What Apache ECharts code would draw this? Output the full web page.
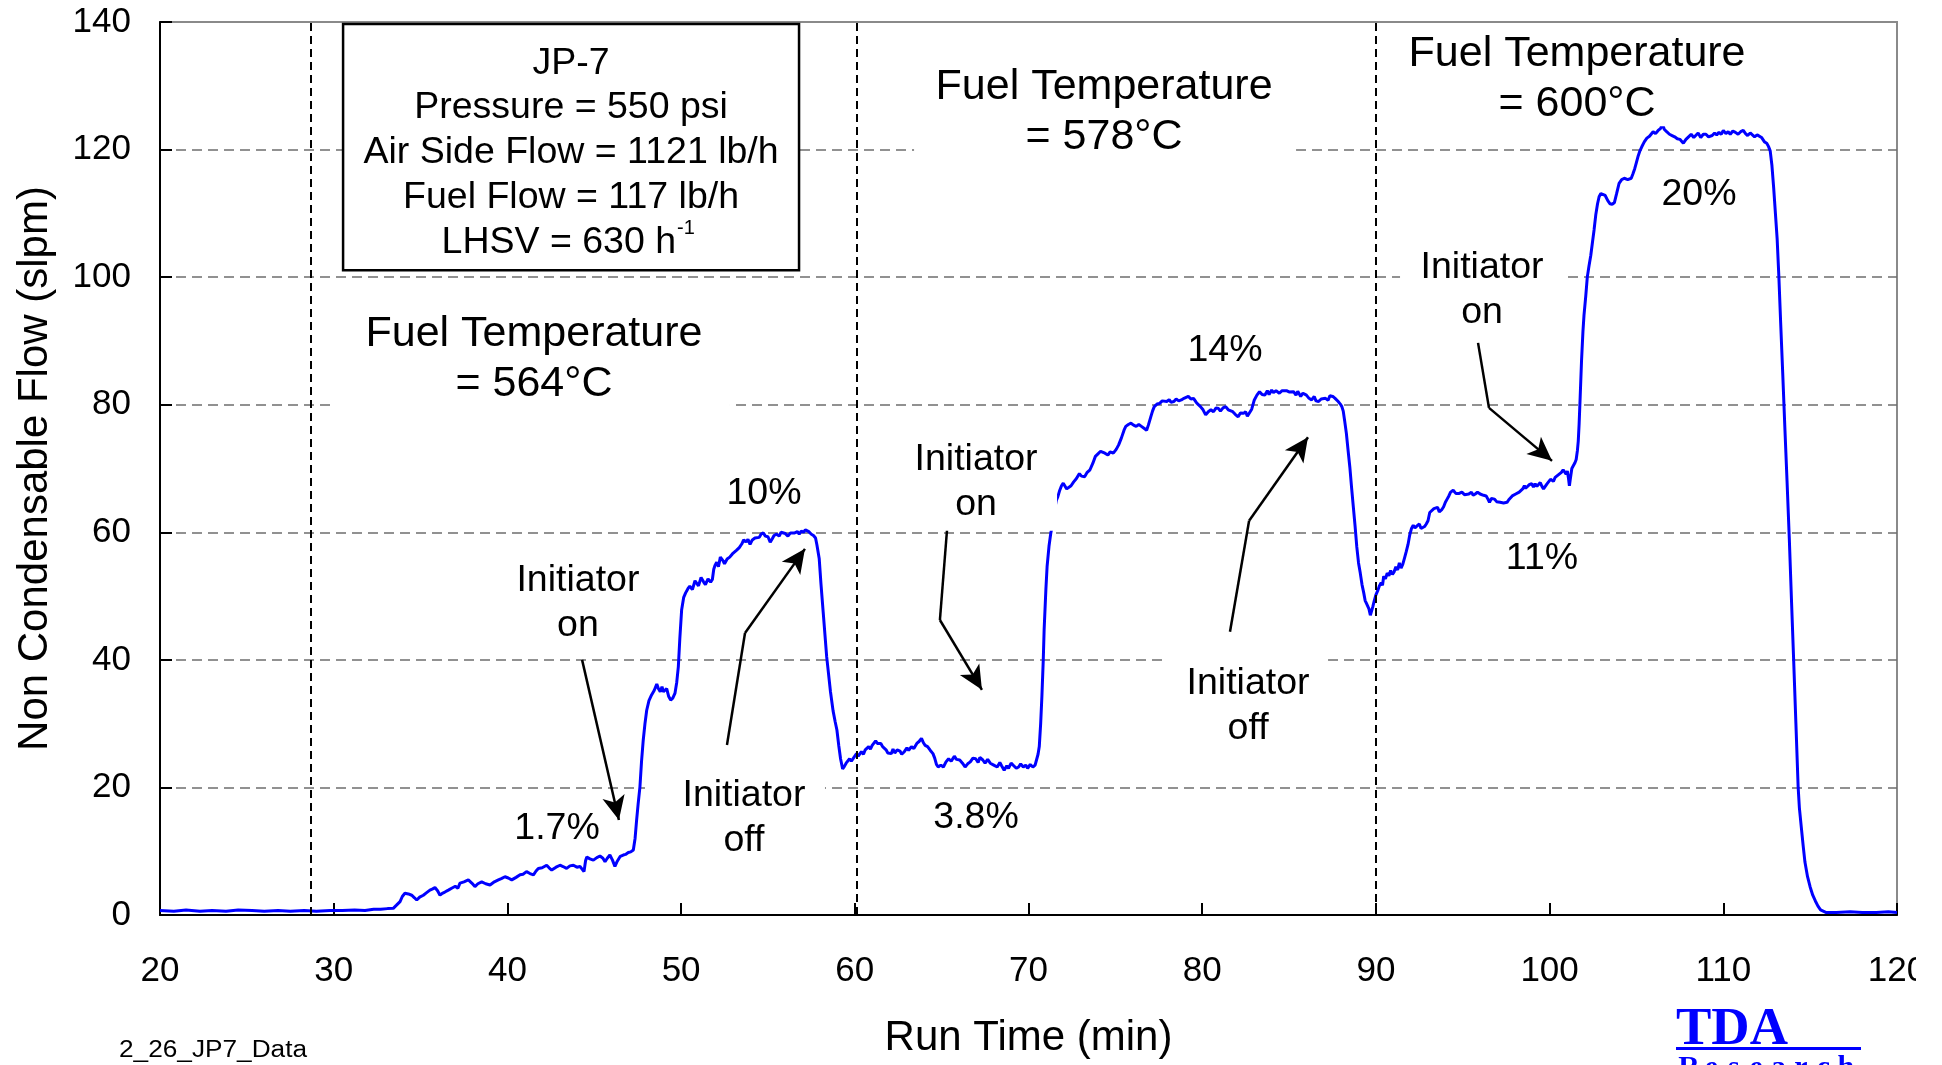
<!DOCTYPE html>
<html>
<head>
<meta charset="utf-8">
<title>Non Condensable Flow vs Run Time</title>
<script src="https://cdn.jsdelivr.net/npm/echarts/dist/echarts.min.js"></script>
<style>
  html, body { margin: 0; padding: 0; background: #ffffff; }
  #chart { width: 1942px; height: 1065px; }
</style>
</head>
<body>
<div id="chart"></div>
<script>
// ---- data -------------------------------------------------------------
const runTimeTicks = [20, 30, 40, 50, 60, 70, 80, 90, 100, 110, 120];
const flowTicks = [0, 20, 40, 60, 80, 100, 120, 140];

// temperature step boundaries (min)
const stepBoundaries = [28.7, 60.1, 90.0];

// [run time (min), non condensable flow (slpm)]
const baselineTrace = [
  [20.0,0.7],[20.8,0.6],[21.5,0.8],[22.3,0.6],[23.0,0.7],[23.8,0.6],[24.5,0.8],[25.3,0.7],
  [26.0,0.6],[26.8,0.7],[27.5,0.6],[28.3,0.7],[29.0,0.6],[29.8,0.7],[30.5,0.7],[31.2,0.8],
  [31.8,0.7],[32.3,0.9],[32.7,0.9],[33.1,1.0],[33.43,1.05]
];
const trace564 = [
  [33.6,1.5],[33.82,2.1],[33.95,2.9],[34.1,3.4],[34.3,3.3],[34.49,3.1],[34.65,2.7],[34.78,2.35],
  [34.95,2.8],[35.16,3.1],[35.35,3.5],[35.54,3.9],[35.7,4.1],[35.83,4.3],[35.98,3.8],[36.12,3.1],
  [36.25,3.4],[36.4,3.6],[36.6,3.9],[36.79,4.2],[37.0,4.5],[37.15,4.2],[37.27,5.0],[37.5,5.2],
  [37.75,5.5],[37.95,5.0],[38.13,4.45],[38.3,4.9],[38.52,5.2],[38.75,4.9],[39.0,4.7],[39.25,5.2],
  [39.48,5.5],[39.65,5.7],[39.86,6.0],[40.05,5.8],[40.25,5.5],[40.5,5.9],[40.73,6.3],[40.9,6.4],
  [41.1,6.8],[41.3,6.5],[41.5,6.3],[41.65,6.9],[41.78,7.3],[42.0,7.4],[42.26,7.8],[42.4,7.4],
  [42.55,7.05],[42.8,7.5],[43.03,7.8],[43.2,7.6],[43.41,7.3],[43.6,7.7],[43.8,7.8],[44.0,7.5],
  [44.18,7.6],[44.3,7.2],[44.41,6.8],[44.5,8.5],[44.57,9.1],[44.75,8.8],[44.95,8.6],[45.15,9.0],
  [45.33,9.25],[45.5,8.9],[45.62,8.35],[45.75,8.9],[45.9,9.4],[46.05,8.6],[46.19,7.6],[46.3,8.3],
  [46.38,8.6],[46.5,9.2],[46.67,9.4],[46.8,9.5],[46.96,9.8],[47.1,9.9],[47.25,10.2],[47.35,12.0],
  [47.44,14.9],[47.53,17.5],[47.63,20.1],[47.72,24.0],[47.82,27.4],[47.92,30.0],[48.02,32.1],
  [48.15,33.6],[48.3,34.5],[48.45,35.2],[48.6,36.2],[48.69,35.5],[48.8,35.0],[48.9,35.8],
  [48.98,35.0],[49.08,35.2],[49.17,35.5],[49.28,34.3],[49.4,33.7],[49.52,34.0],[49.65,34.8],
  [49.75,36.5],[49.84,38.9],[49.93,43.5],[50.03,47.8],[50.15,49.8],[50.26,50.5],[50.4,51.2],
  [50.5,51.55],[50.65,51.0],[50.8,52.4],[50.9,52.1],[51.0,51.6],[51.15,52.9],[51.3,52.2],
  [51.4,51.8],[51.55,52.7],[51.7,52.2],[51.8,52.6],[51.88,54.2],[51.95,54.8],[52.05,55.3],
  [52.15,54.6],[52.26,56.1],[52.4,55.6],[52.5,55.06],[52.65,55.8],[52.8,56.1],[52.95,56.6],
  [53.05,56.9],[53.2,57.2],[53.35,57.6],[53.5,58.2],[53.6,58.8],[53.75,58.5],[53.85,58.9],
  [53.97,58.1],[54.1,58.8],[54.25,59.1],[54.36,59.4],[54.5,59.2],[54.6,59.7],[54.74,59.9],
  [54.85,59.4],[55.0,59.3],[55.13,58.45],[55.25,59.0],[55.35,59.5],[55.5,59.7],[55.65,59.4],
  [55.75,60.0],[55.85,60.2],[56.0,59.8],[56.15,59.4],[56.3,59.9],[56.4,59.6],[56.54,59.9],
  [56.7,60.1],[56.8,59.7],[56.92,60.2],[57.05,60.0],[57.15,60.4],[57.23,60.3],[57.35,60.1],
  [57.5,59.7],[57.62,59.5],[57.74,59.1],[57.82,58.0],[57.95,55.9],[58.05,52.0],[58.18,47.5],
  [58.28,44.0],[58.38,40.5],[58.46,38.5],[58.6,35.0],[58.75,32.0],[58.87,30.3],[58.97,29.0],
  [59.08,26.5],[59.18,24.5],[59.3,22.9],[59.4,23.3],[59.5,23.8],[59.6,23.6],[59.7,24.5],
  [59.8,24.1],[59.97,24.8]
];
const trace578 = [
  [60.1,25.3],[60.2,24.9],[60.38,25.6],[60.5,25.2],[60.6,25.9],[60.8,26.4],[60.9,26.0],[61.0,26.6],
  [61.2,27.3],[61.3,26.9],[61.5,26.9],[61.6,26.4],[61.8,25.9],[61.9,25.4],[62.1,25.3],[62.2,26.0],
  [62.3,25.4],[62.44,25.9],[62.6,25.7],[62.7,25.2],[62.85,25.6],[63.0,26.2],[63.1,25.8],[63.26,26.4],
  [63.4,26.1],[63.57,26.9],[63.7,27.2],[63.84,27.7],[63.95,27.0],[64.05,26.6],[64.19,26.4],
  [64.35,25.8],[64.5,25.3],[64.6,24.6],[64.7,23.6],[64.8,23.2],[64.95,23.5],[65.1,23.2],[65.25,24.0],
  [65.4,24.5],[65.55,24.1],[65.73,24.9],[65.85,24.4],[66.04,24.3],[66.2,23.8],[66.35,23.2],
  [66.5,23.7],[66.65,24.0],[66.8,24.6],[66.96,24.5],[67.1,23.9],[67.2,24.7],[67.37,24.3],[67.5,23.8],
  [67.65,24.4],[67.8,23.8],[68.0,23.5],[68.2,23.2],[68.35,23.9],[68.45,23.4],[68.6,22.7],[68.75,23.4],
  [68.85,23.0],[69.0,23.8],[69.15,23.4],[69.3,23.0],[69.43,23.2],[69.55,23.7],[69.7,23.2],
  [69.84,23.5],[69.95,23.0],[70.1,23.6],[70.25,23.2],[70.38,23.5],[70.46,24.3],[70.55,25.2],
  [70.62,26.4],[70.7,30.0],[70.77,34.2],[70.85,40.0],[70.9,44.7],[71.0,51.0],[71.07,54.6],
  [71.18,57.8],[71.28,59.8],[71.4,61.5],[71.5,63.5],[71.6,65.0],[71.69,65.6],[71.8,66.6],
  [71.9,67.3],[72.0,67.7],[72.1,67.4],[72.2,66.8],[72.31,66.6],[72.45,67.3],[72.6,67.9],
  [72.75,68.4],[72.93,69.2],[73.05,68.8],[73.23,68.7],[73.38,69.4],[73.54,69.8],[73.7,70.8],
  [73.85,71.9],[74.0,72.3],[74.15,72.7],[74.26,72.9],[74.4,72.4],[74.57,72.1],[74.7,72.6],
  [74.88,72.4],[75.05,73.0],[75.19,73.7],[75.35,74.8],[75.5,76.0],[75.6,76.6],[75.75,76.9],
  [75.9,77.1],[76.05,76.8],[76.2,76.6],[76.35,76.9],[76.5,76.6],[76.65,76.3],[76.8,76.0],
  [76.9,76.8],[77.04,78.1],[77.14,79.0],[77.24,79.7],[77.4,80.1],[77.55,80.2],[77.7,80.6],
  [77.8,80.3],[77.96,80.5],[78.1,80.8],[78.2,80.4],[78.37,80.5],[78.5,80.9],[78.65,80.6],
  [78.8,80.75],[78.95,81.0],[79.05,81.1],[79.2,81.3],[79.35,80.9],[79.5,81.0],[79.65,80.4],
  [79.78,80.0],[79.9,79.7],[80.05,79.2],[80.2,78.4],[80.35,78.9],[80.5,79.2],[80.65,78.9],
  [80.8,79.5],[80.94,79.4],[81.05,79.0],[81.2,79.5],[81.35,79.7],[81.5,79.2],[81.6,79.4],
  [81.76,78.9],[81.9,78.5],[82.07,78.1],[82.2,78.7],[82.38,78.65],[82.5,78.9],[82.6,78.2],
  [82.7,78.4],[82.85,79.3],[83.0,80.75],[83.15,81.5],[83.3,82.05],[83.45,81.6],[83.6,81.5],
  [83.75,82.2],[83.85,81.6],[84.0,82.3],[84.1,81.9],[84.25,82.2],[84.44,81.8],[84.6,82.2],
  [84.7,81.9],[84.85,82.2],[85.0,82.0],[85.1,82.3],[85.26,82.05],[85.4,81.5],[85.5,82.1],
  [85.67,81.3],[85.8,81.8],[86.0,81.5],[86.15,81.0],[86.3,80.75],[86.45,81.3],[86.55,80.6],
  [86.7,80.5],[86.85,80.9],[86.95,80.6],[87.1,81.0],[87.25,80.7],[87.35,81.4],[87.52,81.3],
  [87.65,81.0],[87.75,80.8],[87.83,80.5],[87.95,80.1],[88.04,79.7],[88.12,79.0],[88.2,77.5],
  [88.3,75.5],[88.4,72.8],[88.5,70.2],[88.6,67.0],[88.7,64.0],[88.8,61.0],[88.9,57.7],[89.0,55.2],
  [89.1,53.6],[89.2,51.8],[89.3,50.5],[89.38,49.3],[89.45,48.9],[89.52,49.2],[89.6,48.0],
  [89.68,47.0],[89.75,47.3],[89.82,48.3],[89.9,49.2]
];
const trace600 = [
  [90.0,50.2],[90.1,50.8],[90.2,51.6],[90.3,52.1],[90.38,51.7],[90.45,53.1],[90.55,52.7],[90.65,53.6],
  [90.75,53.2],[90.85,54.0],[90.95,53.4],[91.05,53.8],[91.15,54.6],[91.25,54.1],[91.35,55.2],
  [91.45,54.4],[91.55,55.0],[91.65,56.0],[91.75,57.0],[91.85,58.1],[91.95,59.6],[92.05,60.6],
  [92.15,61.1],[92.25,60.7],[92.37,61.0],[92.5,61.3],[92.6,60.6],[92.7,60.3],[92.8,60.9],
  [92.9,61.3],[93.0,61.8],[93.1,63.1],[93.2,63.4],[93.34,63.7],[93.45,63.4],[93.55,63.9],
  [93.65,63.2],[93.78,63.5],[93.9,64.0],[94.0,64.7],[94.1,65.2],[94.2,65.7],[94.3,66.3],
  [94.45,66.6],[94.6,66.1],[94.7,66.4],[94.8,66.1],[94.95,66.3],[95.1,65.9],[95.2,66.2],
  [95.35,66.0],[95.5,66.3],[95.6,65.8],[95.72,66.0],[95.85,66.3],[96.0,66.0],[96.1,66.2],
  [96.2,65.8],[96.35,65.7],[96.45,65.2],[96.54,64.7],[96.65,65.3],[96.75,65.0],[96.83,65.2],
  [96.95,64.8],[97.05,65.1],[97.15,64.7],[97.22,64.9],[97.35,64.6],[97.45,64.3],[97.55,64.7],
  [97.65,65.1],[97.75,65.4],[97.85,65.7],[97.95,65.4],[98.05,66.0],[98.15,65.8],[98.25,66.3],
  [98.35,66.0],[98.45,66.8],[98.55,67.3],[98.62,66.9],[98.72,67.2],[98.85,67.5],[98.97,67.6],
  [99.07,67.1],[99.17,67.6],[99.27,67.2],[99.36,67.4],[99.46,67.8],[99.56,67.2],[99.65,66.8],
  [99.75,67.0],[99.85,67.6],[99.95,67.9],[100.05,68.3],[100.14,68.4],[100.22,68.0],[100.32,68.6],
  [100.42,68.9],[100.5,69.0],[100.6,68.7],[100.68,69.4],[100.78,69.8],[100.88,69.6],[100.95,69.1],
  [101.02,69.6],[101.08,68.6],[101.14,67.3],[101.2,68.5],[101.28,70.0],[101.38,70.5],[101.46,70.9],
  [101.53,71.4],[101.6,72.8],[101.65,74.3],[101.7,77.0],[101.75,80.5],[101.84,87.0],[101.92,91.5],
  [101.98,94.0],[102.08,97.0],[102.17,100.0],[102.27,101.8],[102.37,103.4],[102.47,105.5],
  [102.56,107.4],[102.66,109.8],[102.76,111.5],[102.85,112.6],[102.95,113.1],[103.05,113.3],
  [103.2,112.8],[103.35,112.0],[103.48,111.5],[103.6,111.4],[103.73,111.7],[103.85,113.0],
  [104.0,114.7],[104.15,115.3],[104.3,115.5],[104.5,115.3],[104.7,115.5],[104.8,116.2],[104.9,117.0],
  [105.0,118.0],[105.1,119.0],[105.2,119.8],[105.3,120.4],[105.45,121.2],[105.6,121.8],
  [105.75,122.1],[105.96,122.8],[106.1,122.5],[106.25,123.0],[106.38,123.3],[106.5,123.9],
  [106.6,123.2],[106.74,122.8],[106.9,122.4],[107.05,122.2],[107.2,122.0],[107.35,121.7],
  [107.5,121.6],[107.7,121.0],[107.85,121.6],[108.0,122.0],[108.15,122.4],[108.3,121.9],
  [108.4,122.2],[108.55,122.6],[108.7,121.9],[108.85,122.4],[109.0,122.4],[109.15,122.0],
  [109.36,122.2],[109.5,122.6],[109.62,122.3],[109.75,122.7],[109.88,122.4],[110.0,123.0],
  [110.15,122.5],[110.28,122.8],[110.4,122.4],[110.55,122.9],[110.7,122.7],[110.85,122.4],
  [111.0,122.8],[111.15,123.0],[111.28,122.5],[111.4,122.2],[111.55,122.6],[111.65,122.4],
  [111.8,122.0],[111.95,122.3],[112.06,122.2],[112.2,121.9],[112.37,121.2],[112.5,121.0],
  [112.6,120.5],[112.7,119.8],[112.8,117.5],[112.9,114.0],[113.0,110.0],[113.1,106.0],
  [113.2,100.0],[113.3,93.0],[113.42,85.0],[113.55,76.0],[113.67,68.0],[113.8,59.0],[113.93,49.0],
  [114.05,40.0],[114.18,30.0],[114.31,20.0],[114.38,16.8],[114.5,13.5],[114.6,10.8],[114.7,8.3],
  [114.85,6.0],[115.0,4.4],[115.15,3.1],[115.3,2.2],[115.45,1.4],[115.6,0.8],[115.9,0.4],
  [116.5,0.4],[117.3,0.5],[118.0,0.4],[118.8,0.4],[119.5,0.5],[120.0,0.4]
];

// conversion levels and initiator events
const conversionLabels = [
  { text: '1.7%', at: [42.86, 13.95] },
  { text: '10%',  at: [54.77, 66.6] },
  { text: '3.8%', at: [66.98, 15.7] },
  { text: '14%',  at: [81.31, 88.9] },
  { text: '11%',  at: [99.56, 56.4] },
  { text: '20%',  at: [108.6, 113.4] }
];
const stepLabels = [
  { text: 'Fuel Temperature\n= 564°C', at: [41.53, 87.6] },
  { text: 'Fuel Temperature\n= 578°C', at: [74.35, 126.4] },
  { text: 'Fuel Temperature\n= 600°C', at: [101.58, 131.5] }
];
const eventLabels = [
  { text: 'Initiator\non',  at: [44.06, 49.4] },
  { text: 'Initiator\noff', at: [53.62, 15.7] },
  { text: 'Initiator\non',  at: [66.98, 68.4] },
  { text: 'Initiator\noff', at: [82.64, 33.2] },
  { text: 'Initiator\non',  at: [96.11, 98.5] }
];
// leader lines from each event label to the trace
const eventPointers = [
  [[44.30, 40.0], [46.42, 14.9]],
  [[52.64, 26.65], [53.68, 44.2], [57.13, 57.4]],
  [[65.31, 60.4], [64.90, 46.25], [67.32, 35.3]],
  [[81.60, 44.4], [82.70, 61.8], [86.09, 74.9]],
  [[95.88, 89.7], [96.51, 79.5], [100.14, 71.2]]
];
const conditionLines = [
  'JP-7',
  'Pressure = 550 psi',
  'Air Side Flow = 1121 lb/h',
  'Fuel Flow = 117 lb/h',
  'LHSV = 630 h'
];
const conditionBoxCorners = [[30.54, 139.7], [56.79, 101.1]];

// ---- styling ----------------------------------------------------------
const FONT = '"Liberation Sans", Arial, Helvetica, sans-serif';
const font = (px) => `${px}px ${FONT}`;
const TEXT_NUDGE = 3; // glyph centring offset for annotation text (px)

// white backing behind each text block: [left, right, top, bottom] px from its centre
const stepLabelPads = [[198, 196, 50, 60], [190, 192, 52, 48], [192, 192, 48, 50]];
const eventLabelPads = [[80, 80, 48, 48], [99, 81, 48, 50], [80, 81, 48, 52], [81, 80, 48, 50], [82, 81, 48, 48]];

const xMin = runTimeTicks[0], xMax = runTimeTicks[runTimeTicks.length - 1];
const yMin = flowTicks[0], yMax = flowTicks[flowTicks.length - 1];

const trace = baselineTrace.concat(trace564, trace578, trace600);

// leader lines as markLine segments, arrow head on the last segment only
const pointerSegments = [];
eventPointers.forEach((path) => {
  for (let i = 0; i < path.length - 1; i++) {
    const last = i === path.length - 2;
    pointerSegments.push([
      { coord: path[i], symbol: 'none' },
      { coord: path[i + 1], symbol: last ? 'arrow' : 'none', symbolSize: last ? [17, 24] : 0 }
    ]);
  }
});

const chart = echarts.init(document.getElementById('chart'), null, { renderer: 'canvas' });

chart.setOption({
  animation: false,
  backgroundColor: '#ffffff',
  textStyle: { fontFamily: FONT },
  grid: {
    left: 160, right: 45, top: 22, bottom: 150,
    show: true, borderColor: '#8a8a8a', borderWidth: 2, backgroundColor: 'transparent'
  },
  xAxis: {
    type: 'value', min: xMin, max: xMax, interval: runTimeTicks[1] - runTimeTicks[0],
    name: 'Run Time (min)', nameLocation: 'middle', nameGap: 102,
    nameTextStyle: { fontSize: 42, color: '#000', fontFamily: FONT },
    axisLine: { show: true, onZero: false, lineStyle: { color: '#000', width: 2 } },
    axisTick: { show: true, inside: true, length: 12, lineStyle: { color: '#000', width: 2 } },
    axisLabel: { fontSize: 35, color: '#000', margin: 39, fontFamily: FONT },
    splitLine: { show: false }
  },
  yAxis: {
    type: 'value', min: yMin, max: yMax, interval: flowTicks[1] - flowTicks[0],
    name: 'Non Condensable Flow (slpm)', nameLocation: 'middle', nameGap: 104, nameRotate: 90,
    nameTextStyle: { fontSize: 42, color: '#000', fontFamily: FONT },
    axisLine: { show: true, onZero: false, lineStyle: { color: '#000', width: 2 } },
    axisTick: { show: true, inside: true, length: 12, lineStyle: { color: '#000', width: 2 } },
    axisLabel: { fontSize: 35, color: '#000', margin: 29, fontFamily: FONT, padding: [10, 0, 0, 0] },
    splitLine: {
      show: true, showMinLine: false, showMaxLine: false,
      lineStyle: { color: '#6e6e6e', width: 1.5, type: [10, 6] }
    }
  },
  series: [
    {
      name: 'Non Condensable Flow',
      type: 'line',
      data: trace,
      showSymbol: false,
      symbol: 'none',
      lineStyle: { color: '#0000ff', width: 3 },
      z: 3,
      markLine: {
        silent: true,
        symbol: 'none',
        label: { show: false },
        lineStyle: { color: '#000', width: 2, type: [8, 5] },
        data: stepBoundaries.map((v) => ({ xAxis: v }))
      }
    },
    {
      name: 'pointers',
      type: 'line',
      data: [],
      z: 4,
      markLine: {
        silent: true,
        symbol: ['none', 'arrow'],
        label: { show: false },
        lineStyle: { color: '#000', width: 2.5, type: 'solid' },
        data: pointerSegments
      }
    }
  ]
});

// ---- annotations placed through the axis scales ------------------------
const px = (pt) => chart.convertToPixel({ xAxisIndex: 0, yAxisIndex: 0 }, pt);
const graphics = [];

function backedText(label, size, lineHeight, pad) {
  const [cx, cy] = px(label.at);
  graphics.push({
    type: 'rect', silent: true, z: 100,
    shape: { x: cx - pad[0], y: cy - pad[2], width: pad[0] + pad[1], height: pad[2] + pad[3] },
    style: { fill: '#ffffff' }
  });
  graphics.push({
    type: 'text', silent: true, z: 101,
    x: cx, y: cy + TEXT_NUDGE,
    style: { text: label.text, font: font(size), fill: '#000', align: 'center', verticalAlign: 'middle', lineHeight }
  });
}

stepLabels.forEach((l, i) => backedText(l, 43, 50, stepLabelPads[i]));
eventLabels.forEach((l, i) => backedText(l, 37.5, 45, eventLabelPads[i]));

conversionLabels.forEach((l) => {
  const [cx, cy] = px(l.at);
  graphics.push({
    type: 'text', silent: true, z: 101, x: cx, y: cy + TEXT_NUDGE,
    style: { text: l.text, font: font(37.5), fill: '#000', align: 'center', verticalAlign: 'middle' }
  });
});

// run-condition box
const [bx0, by0] = px(conditionBoxCorners[0]);
const [bx1, by1] = px(conditionBoxCorners[1]);
graphics.push({
  type: 'rect', silent: true, z: 100,
  shape: { x: bx0, y: by0, width: bx1 - bx0, height: by1 - by0 },
  style: { fill: '#ffffff', stroke: '#000', lineWidth: 2.5 }
});
const lineOffsets = [40, 84, 129, 174, 219];
const bxc = (bx0 + bx1) / 2;
conditionLines.forEach((t, i) => {
  const last = i === conditionLines.length - 1;
  graphics.push({
    type: 'text', silent: true, z: 101,
    x: last ? bxc + 105 : bxc, y: by0 + lineOffsets[i],
    style: { text: t, font: font(37.5), fill: '#000', align: last ? 'right' : 'center', verticalAlign: 'middle' }
  });
  if (last) {
    graphics.push({
      type: 'text', silent: true, z: 101,
      x: bxc + 106, y: by0 + lineOffsets[i] - 14,
      style: { text: '-1', font: font(20), fill: '#000', align: 'left', verticalAlign: 'middle' }
    });
  }
});

// page furniture: data file tag and company mark
graphics.push({
  type: 'text', silent: true, z: 101, x: 119, y: 1051, scaleX: 1.14,
  style: { text: '2_26_JP7_Data', font: font(23), fill: '#000', align: 'left', verticalAlign: 'middle' }
});
graphics.push({
  type: 'text', silent: true, z: 101, x: 1676, y: 1030,
  style: { text: 'TDA', font: 'bold 53px "Liberation Serif", "Times New Roman", serif', fill: '#0000ff', align: 'left', verticalAlign: 'middle' }
});
graphics.push({
  type: 'rect', silent: true, z: 101,
  shape: { x: 1676, y: 1047, width: 185, height: 3 },
  style: { fill: '#0000ff' }
});
'Research'.split('').forEach((ch, i) => {
  graphics.push({
    type: 'text', silent: true, z: 101, x: 1689 + i * 22.4, y: 1053,
    style: { text: ch, font: 'bold 30px "Liberation Serif", "Times New Roman", serif', fill: '#0000ff', align: 'center', verticalAlign: 'top' }
  });
});
// right page margin trims the last tick label
graphics.push({
  type: 'rect', silent: true, z: 102,
  shape: { x: 1916, y: 925, width: 26, height: 80 },
  style: { fill: '#ffffff' }
});

chart.setOption({ graphic: { elements: graphics } });
</script>
</body>
</html>
